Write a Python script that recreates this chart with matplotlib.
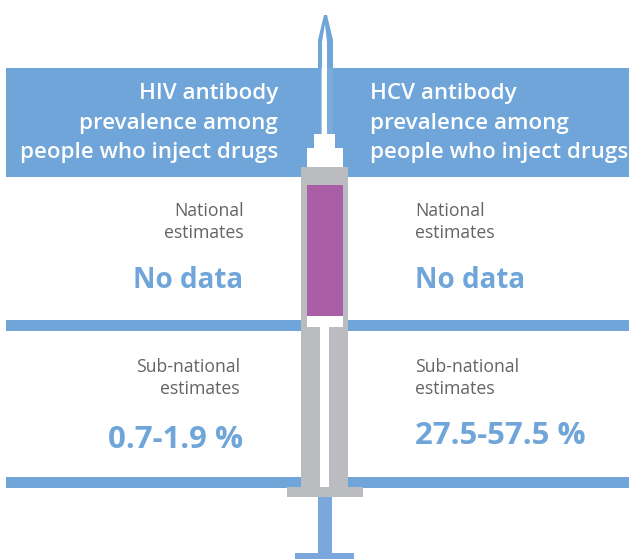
import matplotlib as mpl
mpl.use('Agg')
import matplotlib.pyplot as plt
from matplotlib.patches import Rectangle, Polygon

mpl.rc('font', family='Open Sans')

BLUE = '#6fa5d8'
ROD = '#7ba7dc'
GREY = '#bbbcc0'
PURPLE = '#a95ea6'
TEXT = '#636466'

left_header = ['HIV antibody', 'prevalence among', 'people who inject drugs']
right_header = ['HCV antibody', 'prevalence among', 'people who inject drugs']
national_label = ['National', 'estimates']
subnational_label = ['Sub-national', 'estimates']
national_values = ['No data', 'No data']
subnational_values = ['0.7-1.9 %', '27.5-57.5 %']


def box(ax, x0, y0, x1, y1, color):
    ax.add_patch(Rectangle((x0, y0), x1 - x0, y1 - y0, fc=color, ec='none'))


def lines(ax, x, ys, strings, ha, **kw):
    for y, s in zip(ys, strings):
        ax.text(x, y, s, ha=ha, va='center', **kw)


def draw_syringe(ax):
    # needle
    ax.add_patch(Polygon([(318, 134), (318, 40), (324, 15), (327, 15), (333, 40), (333, 134)],
                         fc=BLUE, ec='none', zorder=3))
    ax.add_patch(Polygon([(322, 134), (322, 42), (325, 24), (327, 42), (327, 134)],
                         fc='white', ec='none', zorder=3))
    ax.add_patch(Rectangle((321, 68), 1, 66, fc='#a8c8e8', ec='none', zorder=3))
    ax.add_patch(Rectangle((327, 68), 6, 66, fc='#7fabdb', ec='none', zorder=3))
    # hub
    box(ax, 314, 134, 335, 148, 'white')
    box(ax, 307, 148, 343, 167, 'white')
    # barrel
    box(ax, 301, 167, 348, 487, GREY)
    box(ax, 307, 185, 343, 316, PURPLE)
    box(ax, 307, 316, 343, 327, 'white')
    box(ax, 320, 327, 329, 487, 'white')
    # plunger end
    box(ax, 287, 487, 363, 497, GREY)
    box(ax, 318, 497, 332, 553, ROD)
    box(ax, 295, 553, 354, 559, ROD)


def main():
    fig = plt.figure(figsize=(6.29, 5.59), dpi=100)
    ax = fig.add_axes([0, 0, 1, 1])
    ax.set_xlim(0, 629)
    ax.set_ylim(559, 0)
    ax.axis('off')

    box(ax, 6, 68, 629, 177, BLUE)
    box(ax, 6, 320, 301, 331, BLUE)
    box(ax, 348, 320, 629, 331, BLUE)
    box(ax, 6, 477, 301, 488, BLUE)
    box(ax, 348, 477, 629, 488, BLUE)
    draw_syringe(ax)

    head = dict(color='white', fontsize=16.1, fontweight='semibold')
    lines(ax, 278, [93.5, 123.5, 152.5], left_header, 'right', **head)
    lines(ax, 370, [93.5, 123.5, 152.5], right_header, 'left', **head)

    small = dict(color=TEXT, fontsize=12.7)
    lines(ax, 244, [210.5, 232.5], national_label, 'right', **small)
    lines(ax, 415, [210.5, 232.5], national_label, 'left', **small)
    lines(ax, 240, [366.5, 388.5], subnational_label, 'right', **small)
    lines(ax, 415, [366.5, 388.5], subnational_label, 'left', **small)

    big = dict(color=BLUE, fontsize=20, fontweight='bold')
    num = dict(color=BLUE, fontsize=22.4, fontweight='bold')
    ax.text(243, 281, national_values[0], ha='right', va='center', **big)
    ax.text(415, 281, national_values[1], ha='left', va='center', **big)
    ax.text(243, 440, subnational_values[0], ha='right', va='center', **num)
    ax.text(415, 436, subnational_values[1], ha='left', va='center', **num)

    fig.savefig('out.png', dpi=100)


if __name__ == '__main__':
    main()
